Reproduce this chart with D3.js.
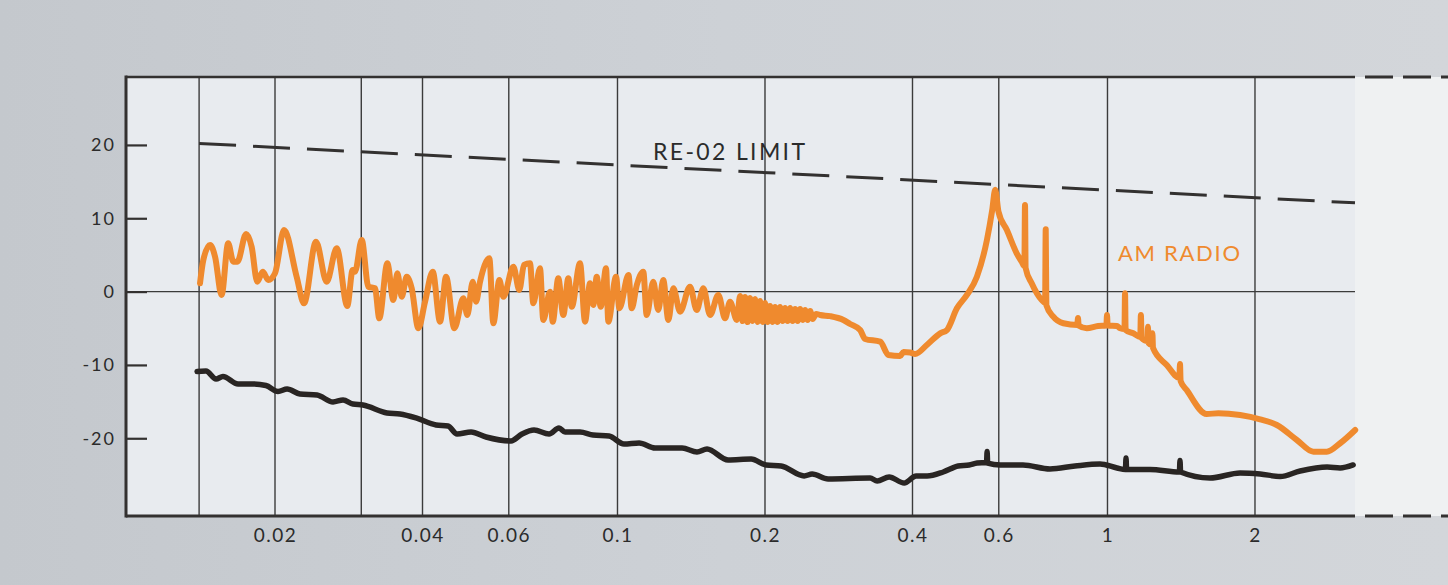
<!DOCTYPE html>
<html><head><meta charset="utf-8">
<script src="https://cdn.jsdelivr.net/npm/d3@7"></script>
<style>html,body{margin:0;padding:0;background:#cbcfd4;overflow:hidden}</style>
</head><body><svg id="chart" width="1448" height="585"></svg>
<script>
// ---------- data (MHz, dB) ----------
const xTickValues = [0.02, 0.04, 0.06, 0.1, 0.2, 0.4, 0.6, 1, 2];
const xTickLabels = ["0.02", "0.04", "0.06", "0.1", "0.2", "0.4", "0.6", "1", "2"];
const xGridValues = [0.014, 0.02, 0.03, 0.04, 0.06, 0.1, 0.2, 0.4, 0.6, 1, 2];
const yTickValues = [20, 10, 0, -10, -20];
const yTickLabels = ["20", "10", "0", "-10", "-20"];

const limitFreq = [0.014, 3.2];
const limitLevel = [20.2, 12.1];

const ambientFreq = [0.01387,0.01446,0.01516,0.01566,0.01681,0.01803,0.01917,0.02028,0.02117,0.02249,0.02437,0.02627,0.02754,0.02885,0.03024,0.03386,0.03599,0.0388,0.04263,0.0451,0.04705,0.05025,0.05392,0.06064,0.06385,0.06755,0.07249,0.07597,0.07815,0.08386,0.08914,0.09611,0.1031,0.1107,0.1193,0.1355,0.1453,0.1523,0.1681,0.1874,0.2011,0.2157,0.2404,0.2496,0.269,0.3278,0.3388,0.3584,0.3847,0.4069,0.4285,0.4621,0.4958,0.5221,0.5421,0.5665,0.568,0.5695,0.604,0.6723,0.7633,0.8586,0.9656,1.046,1.088,1.091,1.094,1.221,1.402,1.406,1.41,1.619,1.865,2.049,2.251,2.473,2.807,2.984,3.172];
const ambientLevel = [-10.89,-10.83,-11.92,-11.58,-12.6,-12.6,-12.8,-13.62,-13.28,-13.96,-14.1,-15.05,-14.78,-15.33,-15.46,-16.55,-16.69,-17.23,-18.19,-18.33,-19.42,-19.14,-19.83,-20.37,-19.42,-18.87,-19.42,-18.6,-19.14,-19.14,-19.55,-19.69,-20.78,-20.64,-21.33,-21.33,-21.87,-21.46,-22.96,-22.83,-23.64,-23.78,-25.14,-24.87,-25.55,-25.42,-25.82,-25.28,-26.1,-25.14,-25.14,-24.6,-23.78,-23.64,-23.37,-23.3,-21.8,-23.4,-23.64,-23.64,-24.19,-23.78,-23.51,-24.05,-24.26,-22.69,-24.26,-24.26,-24.6,-23.03,-24.6,-25.42,-24.73,-24.87,-25.21,-24.46,-23.92,-24.05,-23.64];

const amFreq = [0.01406,0.01428,0.01474,0.01509,0.01556,0.01605,0.01644,0.01676,0.01746,0.01792,0.0184,0.01888,0.01938,0.02,0.02087,0.02214,0.02292,0.02425,0.0255,0.02673,0.02809,0.02881,0.02913,0.03006,0.03101,0.032,0.03265,0.03391,0.03488,0.03554,0.03628,0.03714,0.03802,0.03923,0.04048,0.04197,0.04344,0.04468,0.04646,0.04846,0.04938,0.05065,0.05144,0.05242,0.05476,0.0558,0.0574,0.05849,0.0613,0.06304,0.06445,0.06629,0.06733,0.06948,0.07056,0.07283,0.07376,0.07572,0.07752,0.07937,0.08065,0.08386,0.08586,0.08789,0.08926,0.0907,0.09242,0.09475,0.09579,0.09931,0.1009,0.1053,0.1069,0.1095,0.1129,0.1147,0.1183,0.1211,0.124,0.127,0.13,0.1342,0.1406,0.1451,0.1497,0.1545,0.1606,0.1658,0.1697,0.1752,0.1779,0.18,0.1821,0.1843,0.1865,0.1887,0.1909,0.1932,0.1955,0.1978,0.2001,0.2025,0.2049,0.2073,0.2097,0.2122,0.2147,0.2172,0.2198,0.2224,0.2251,0.2277,0.2304,0.2332,0.2359,0.2387,0.2415,0.2444,0.2473,0.2502,0.2544,0.2592,0.2716,0.2891,0.2984,0.3128,0.3202,0.3436,0.3572,0.3775,0.3834,0.3956,0.405,0.4279,0.4556,0.4702,0.4928,0.5165,0.5414,0.5675,0.5818,0.59,0.5992,0.6233,0.6527,0.6682,0.6767,0.6787,0.6807,0.7004,0.7341,0.7459,0.7481,0.7503,0.7752,0.8126,0.868,0.8706,0.8732,0.907,0.9565,0.9948,0.9978,1.0008,1.045,1.061,1.083,1.086,1.089,1.129,1.1665,1.17,1.1735,1.206,1.2095,1.213,1.2315,1.235,1.2385,1.321,1.402,1.406,1.41,1.451,1.594,1.684,1.865,2.049,2.216,2.435,2.632,2.803,2.984,3.203];
const amLevel = [1.13,4.31,6.35,4.76,-0.46,6.59,4.08,4.08,7.85,6.12,1.35,2.71,1.58,2.5,8.4,2.03,-1.6,6.8,1.35,5.9,-1.96,2.95,2.71,7.04,0.67,0.45,-3.64,3.86,-1.15,2.5,-0.7,2.03,0.45,-5.0,-1.38,2.71,-4.1,2.03,-5.0,-0.91,-3.19,1.35,-1.38,1.35,4.54,-4.32,1.58,-0.7,3.4,0.22,3.63,3.86,-1.6,3.18,-3.87,-0.01,-4.1,1.81,-3.19,1.81,-2.06,3.86,-4.1,1.13,-1.83,2.03,-2.06,3.18,-4.1,2.03,-2.28,2.26,-2.28,0.9,2.71,-3.19,1.35,-2.51,1.58,-3.87,0.45,-2.74,0.67,-2.51,0.45,-3.19,-0.46,-3.64,-1.38,-3.87,-0.6,-4.01,-0.74,-4.15,-0.87,-4.01,-1.01,-4.15,-1.28,-4.15,-1.55,-4.15,-1.96,-4.15,-2.1,-4.15,-2.1,-4.01,-2.24,-4.01,-2.24,-4.01,-2.37,-4.01,-2.37,-3.87,-2.51,-3.87,-2.65,-3.74,-3.05,-3.19,-3.35,-3.87,-4.42,-5.24,-6.46,-6.83,-8.64,-8.78,-8.24,-8.3,-8.51,-7.28,-5.69,-5.24,-2.28,-0.46,2.03,7.04,11.13,13.9,10.89,8.4,5.22,4.08,3.49,11.81,3.22,1.13,-1.15,-1.55,8.49,-1.83,-3.42,-4.32,-4.55,-3.6,-4.62,-5.0,-4.69,-4.62,-3.19,-4.62,-4.69,-5.0,-5.1,-0.23,-5.24,-5.69,-6.19,-3.19,-6.33,-6.74,-4.79,-7.01,-7.28,-5.69,-7.69,-10.01,-11.78,-9.87,-12.19,-13.42,-16.69,-16.59,-16.83,-17.41,-18.19,-20.23,-21.83,-21.83,-20.68,-18.87];

// ---------- layout ----------
const W = 1448, H = 585;
const plotLeft = 126, plotRight = 1355, plotTop = 77, plotBottom = 516;
const ink = "#333130", orange = "#ef8a2e";

const svg = d3.select("#chart");
const x = d3.scaleLog().domain([0.01, 3.2]).range([127.5, 1355]);
const y = d3.scaleLinear().domain([-30.6, 29.4]).range([516, 76]);

// backgrounds (scanned page tones)
const defs = svg.append("defs");
const g1 = defs.append("linearGradient").attr("id", "page").attr("x1", 0).attr("x2", 1).attr("y1", 0).attr("y2", 0);
g1.append("stop").attr("offset", "0%").attr("stop-color", "#c4c8cd");
g1.append("stop").attr("offset", "50%").attr("stop-color", "#cdd1d6");
g1.append("stop").attr("offset", "100%").attr("stop-color", "#d3d6da");
svg.append("rect").attr("width", W).attr("height", H).attr("fill", "url(#page)");
svg.append("rect").attr("x", plotLeft).attr("y", plotTop).attr("width", plotRight - plotLeft)
  .attr("height", plotBottom - plotTop).attr("fill", "#e8ebef");
svg.append("rect").attr("x", plotRight).attr("y", plotTop).attr("width", W - plotRight)
  .attr("height", plotBottom - plotTop).attr("fill", "#eff1f2");

// vertical grid
svg.append("g").selectAll("line").data(xGridValues).join("line")
  .attr("x1", d => x(d)).attr("x2", d => x(d))
  .attr("y1", plotTop).attr("y2", plotBottom)
  .attr("stroke", "#3b3b3b").attr("stroke-width", 1.4);
// zero line
svg.append("line").attr("x1", plotLeft).attr("x2", plotRight)
  .attr("y1", y(0)).attr("y2", y(0)).attr("stroke", "#3b3b3b").attr("stroke-width", 1.4);

// limit line
const straight = d3.line().x(d => x(d[0])).y(d => y(d[1]));
svg.append("path").datum(d3.zip(limitFreq, limitLevel)).attr("d", straight)
  .attr("fill", "none").attr("stroke", ink).attr("stroke-width", 3)
  .attr("stroke-dasharray", "37,17");

const smooth = d3.line().x(d => x(d[0])).y(d => y(d[1])).curve(d3.curveMonotoneX);

// ambient (black) curve
svg.append("path").datum(d3.zip(ambientFreq, ambientLevel)).attr("d", smooth)
  .attr("fill", "none").attr("stroke", "#292523").attr("stroke-width", 5.5)
  .attr("stroke-linejoin", "round").attr("stroke-linecap", "round");

// AM radio (orange) curve
svg.append("path").datum(d3.zip(amFreq, amLevel)).attr("d", smooth)
  .attr("fill", "none").attr("stroke", orange).attr("stroke-width", 6)
  .attr("stroke-linejoin", "round").attr("stroke-linecap", "round");

// frame
svg.append("line").attr("x1", plotLeft).attr("x2", plotLeft).attr("y1", plotTop - 1.5).attr("y2", plotBottom + 1.5)
  .attr("stroke", ink).attr("stroke-width", 3);
svg.append("line").attr("x1", plotLeft).attr("x2", plotRight).attr("y1", plotTop).attr("y2", plotTop)
  .attr("stroke", ink).attr("stroke-width", 2.6);
svg.append("line").attr("x1", plotLeft).attr("x2", plotRight).attr("y1", plotBottom).attr("y2", plotBottom)
  .attr("stroke", ink).attr("stroke-width", 3);
[plotTop, plotBottom].forEach(yy => {
  svg.append("line").attr("x1", plotRight + 10).attr("x2", W).attr("y1", yy).attr("y2", yy)
    .attr("stroke", ink).attr("stroke-width", 3).attr("stroke-dasharray", "28,10");
});

const fontFam = "Lato, 'DejaVu Sans', sans-serif";

// x axis labels
const xAxis = d3.axisBottom(x).tickValues(xTickValues)
  .tickFormat((d, i) => xTickLabels[i]).tickSize(0).tickPadding(13);
const gx = svg.append("g").attr("transform", `translate(0,${plotBottom})`).call(xAxis);
gx.select(".domain").remove();
gx.selectAll("text").attr("font-family", fontFam).attr("font-size", 19)
  .attr("letter-spacing", "1.5px").attr("fill", "#2b2b2b");

// y axis (ticks inward)
const yAxis = d3.axisLeft(y).tickValues(yTickValues)
  .tickFormat((d, i) => yTickLabels[i]).tickSizeInner(-21).tickSizeOuter(0).tickPadding(10);
const gy = svg.append("g").attr("transform", `translate(${plotLeft},0)`).call(yAxis);
gy.select(".domain").remove();
gy.selectAll("line").attr("stroke", ink).attr("stroke-width", 2.2);
gy.selectAll("text").attr("font-family", fontFam).attr("font-size", 18)
  .attr("letter-spacing", "2px").attr("fill", "#2b2b2b");

// annotations
svg.append("text").attr("x", 653).attr("y", 160).text("RE-02 LIMIT")
  .attr("font-family", fontFam).attr("font-size", 23).attr("fill", "#2b2b2b")
  .attr("textLength", 152).attr("lengthAdjust", "spacing");
svg.append("text").attr("x", 1118).attr("y", 261).text("AM RADIO")
  .attr("font-family", fontFam).attr("font-size", 22).attr("fill", orange)
  .attr("textLength", 122).attr("lengthAdjust", "spacing");
</script>
</body></html>
